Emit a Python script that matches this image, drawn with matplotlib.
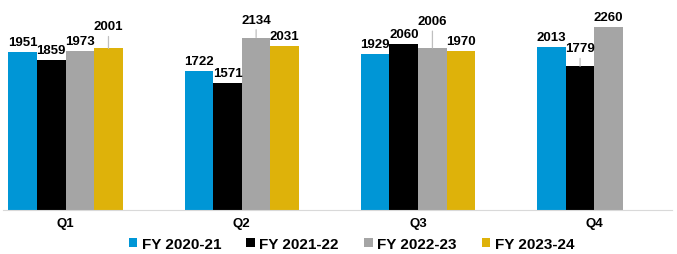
import numpy as np
import matplotlib
matplotlib.use("Agg")
import matplotlib.pyplot as plt

plt.rcParams['font.family'] = ['Liberation Sans', 'DejaVu Sans']

quarters = ['Q1', 'Q2', 'Q3', 'Q4']
series = ['FY 2020-21', 'FY 2021-22', 'FY 2022-23', 'FY 2023-24']
fy2021 = [1951, 1722, 1929, 2013]
fy2122 = [1859, 1571, 2060, 1779]
fy2223 = [1973, 2134, 2006, 2260]
fy2324 = [2001, 2031, 1970, None]

colors = ['#0096d6', '#000000', '#a5a5a5', '#deb20a']
# labels pushed up with a leader line: (series, quarter) -> offset in px
leaders = {(3, 0): 22, (2, 1): 18, (2, 2): 27, (1, 3): 18}

fig = plt.figure(figsize=(6.77, 2.55), dpi=100)
ax = fig.add_axes([0, 44/255, 1, 211/255])

x = np.arange(len(quarters))
w = 0.1625
px = 0.72  # points per pixel at 100 dpi

for i, vals in enumerate([fy2021, fy2122, fy2223, fy2324]):
    for j, v in enumerate(vals):
        if v is None:
            continue
        xi = x[j] + (i - 1.5) * w
        ax.bar(xi, v, w, color=colors[i], label=series[i] if j == 0 else None)
        off = leaders.get((i, j))
        if off is None:
            ax.annotate(str(v), (xi, v), xytext=(0, 10 * px), textcoords='offset points',
                        ha='center', va='center', fontsize=9.5, fontweight='bold')
        else:
            ax.annotate(str(v), (xi, v), xytext=(0, off * px), textcoords='offset points',
                        ha='center', va='center', fontsize=9.5, fontweight='bold',
                        arrowprops=dict(arrowstyle='-', color='#bfbfbf', lw=0.9,
                                        shrinkA=1, shrinkB=0))

ax.set_xlim(-65.5/176.3, (677-65.5)/176.3)
ax.set_ylim(0, 211/0.0808)
ax.set_xticks(x)
ax.set_xticklabels(quarters, fontsize=9.5, fontweight='bold')
ax.tick_params(axis='x', length=0, pad=5)
ax.set_yticks([])
for s in ['top', 'left', 'right']:
    ax.spines[s].set_visible(False)
ax.spines['bottom'].set_color('#d9d9d9')
ax.spines['bottom'].set_bounds(-0.352, 3.44)

fig.legend(loc='center', bbox_to_anchor=(351.5/677, 10/255), ncol=4, frameon=False,
           prop={'size': 11, 'weight': 'bold'}, handlelength=0.55, handleheight=0.55,
           handletextpad=0.3, columnspacing=1.65, borderaxespad=0)

fig.savefig('out.png', dpi=100)
